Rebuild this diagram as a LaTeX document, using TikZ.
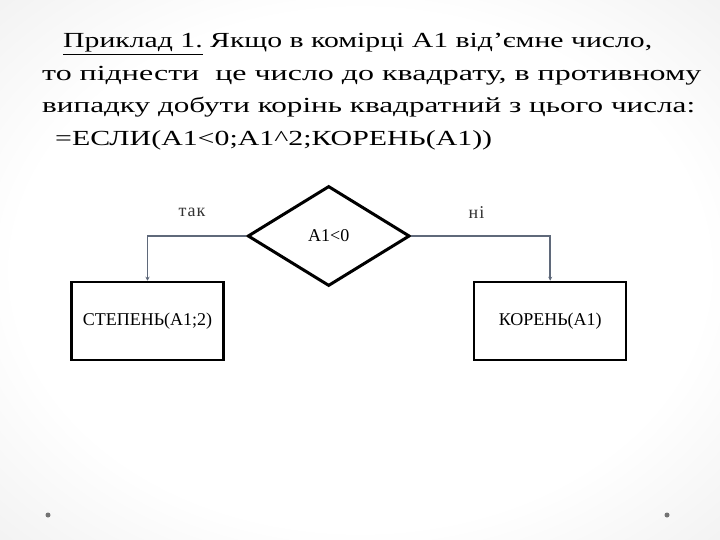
\documentclass[tikz,border=0pt]{standalone}
\usepackage{fontspec}
\setmainfont{Liberation Serif}
\newfontfamily\lblfont[LetterSpace=5]{Liberation Serif}
\usetikzlibrary{shapes.geometric,arrows.meta}
\definecolor{connc}{RGB}{95,105,122}
\pgfdeclareradialshading{vignette}{\pgfpoint{0bp}{0bp}}{color(0bp)=(white); color(24bp)=(white); color(50bp)=(black!11); color(72bp)=(black!22)}
\begin{document}
\begin{tikzpicture}[x=1pt,y=-1pt,
  box/.style={draw=black, line width=2.5pt, minimum width=152pt, minimum height=78pt, inner sep=0pt, font=\fontsize{18}{20}\selectfont},
  decision/.style={diamond, draw=black, line width=3pt, minimum width=162pt, minimum height=100pt, inner sep=0pt, font=\fontsize{18}{20}\selectfont},
  conn/.style={draw=connc, line width=1.5pt, -{Stealth[length=4pt,width=4pt]}},
  lbl/.style={inner sep=0pt, font=\lblfont\fontsize{18}{20}\selectfont, text=black!80},
  tline/.style={anchor=base west, inner sep=0pt, font=\fontsize{21.5}{25}\selectfont, text=black},
  dotmark/.style={circle, fill=black!55, inner sep=0pt, minimum size=5pt}
]
\shade[shading=vignette] (0,0) rectangle (720,540);
\useasboundingbox (0,0) rectangle (720,540);

% title text
\node[tline] (t1) at (63,48) {\resizebox{589pt}{\height}{\underline{Приклад 1.} Якщо в комірці А1 від’ємне число,}};
\node[tline] (t2) at (42,81) {\resizebox{659pt}{\height}{то піднести~ це число до квадрату, в противному}};
\node[tline] (t3) at (42,113) {\resizebox{653pt}{\height}{випадку добути корінь квадратний з цього числа:}};
\node[tline] (t4) at (55,146) {\resizebox{437pt}{\height}{=ЕСЛИ(А1<0;А1\textasciicircum2;КОРЕНЬ(А1))}};

% flowchart
\node[decision] (cond) at (328.7,236) {A1<0};
\node[box] (pow) at (147.5,321) {СТЕПЕНЬ(А1;2)};
\node[box] (root) at (550.2,321) {КОРЕНЬ(А1)};

\draw[conn] (cond.west) -| (pow.north);
\draw[conn] (cond.east) -| (root.north);

\node[lbl] (yes) at (192,212) {так};
\node[lbl] (no) at (476.5,213) {ні};

% slide dots
\node[dotmark] (dl) at (48,515) {};
\node[dotmark] (dr) at (667,515) {};
\end{tikzpicture}
\end{document}
